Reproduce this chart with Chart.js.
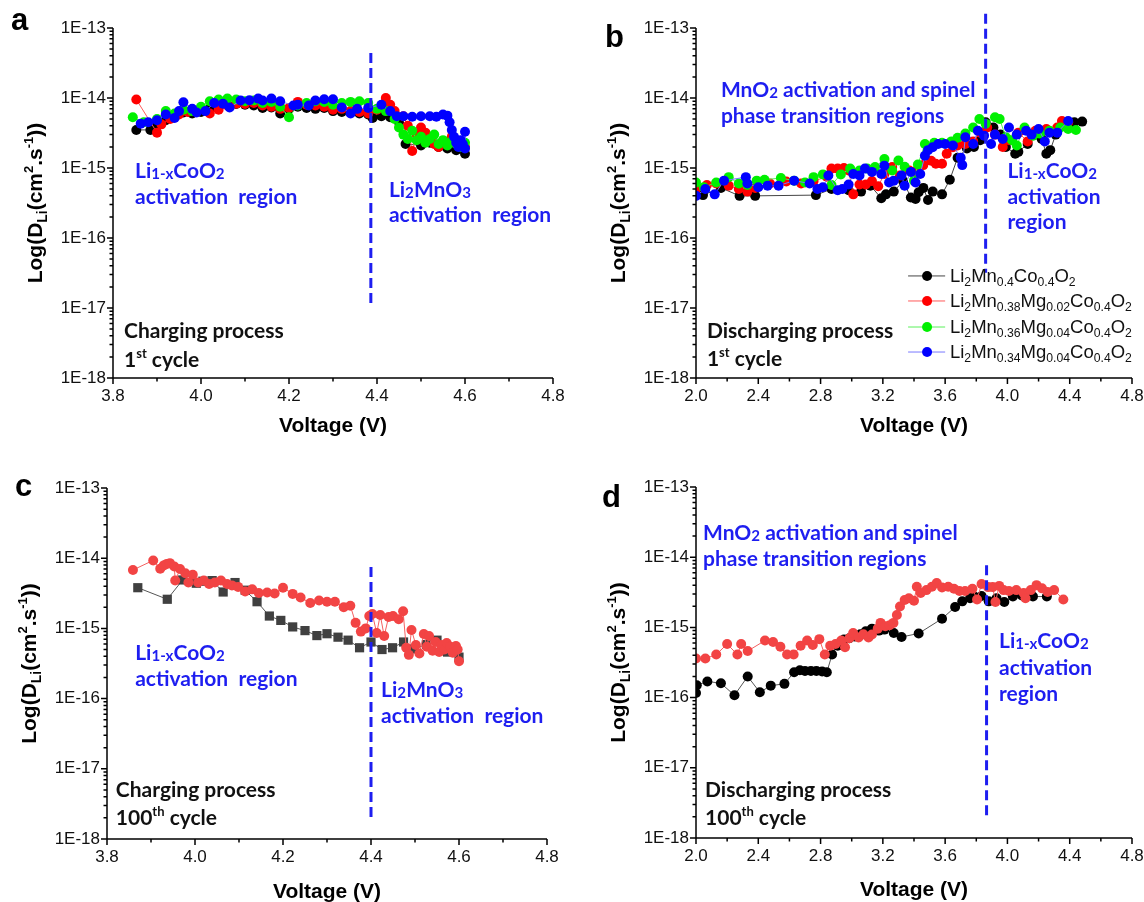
<!DOCTYPE html>
<html>
<head>
<meta charset="utf-8">
<script src="https://cdn.jsdelivr.net/npm/chart.js@4.4.1/dist/chart.umd.min.js"></script>
<style>
  body { margin: 0; background: #fff; width: 1144px; height: 902px; overflow: hidden; position: relative; }
  canvas { position: absolute; }
</style>
</head>
<body>
<canvas id="pa" width="572" height="451" style="left:0;top:0"></canvas>
<canvas id="pb" width="572" height="451" style="left:572px;top:0"></canvas>
<canvas id="pc" width="572" height="451" style="left:0;top:451px"></canvas>
<canvas id="pd" width="572" height="451" style="left:572px;top:451px"></canvas>
<script>
// ---- data: voltage (V) and D_Li (cm2/s) ----

// a: charging, 1st cycle
const aV_black = [3.853,3.885,3.90,3.92,3.94,3.96,3.98,4.00,4.02,4.04,4.06,4.08,4.10,4.12,4.14,4.16,4.18,4.20,4.22,4.24,4.26,4.28,4.30,4.32,4.34,4.36,4.38,4.39,4.41,4.43,4.45,4.465,4.50,4.52,4.54,4.56,4.58,4.60];
const aD_black = [3.5e-15,3.5e-15,4.0e-15,4.8e-15,5.5e-15,6.2e-15,6.0e-15,6.3e-15,7.0e-15,7.5e-15,8.0e-15,8.2e-15,8.0e-15,7.8e-15,7.2e-15,7.3e-15,6.0e-15,7.0e-15,7.5e-15,7.2e-15,7.0e-15,7.2e-15,6.5e-15,6.3e-15,6.2e-15,6.0e-15,5.8e-15,5.2e-15,5.5e-15,5.3e-15,4.5e-15,2.2e-15,2.1e-15,2.3e-15,2.0e-15,1.9e-15,1.8e-15,1.6e-15];
const aV_red = [3.853,3.90,3.91,3.93,3.95,3.97,3.99,4.02,4.04,4.06,4.08,4.10,4.12,4.14,4.16,4.18,4.20,4.22,4.24,4.26,4.28,4.30,4.32,4.34,4.36,4.38,4.40,4.42,4.43,4.44,4.46,4.47,4.48,4.49,4.50,4.51,4.52,4.53,4.54,4.55,4.56,4.57,4.58,4.59,4.60];
const aD_red = [9.5e-15,3.2e-15,4.2e-15,5.0e-15,5.8e-15,6.3e-15,6.5e-15,6.0e-15,6.8e-15,7.8e-15,8.3e-15,8.2e-15,8.5e-15,7.8e-15,7.5e-15,7.0e-15,7.2e-15,8.8e-15,8.0e-15,7.8e-15,7.5e-15,6.8e-15,7.0e-15,6.5e-15,6.3e-15,6.0e-15,6.8e-15,1.0e-14,8.0e-15,6.5e-15,5.5e-15,4.0e-15,1.75e-15,3.0e-15,3.8e-15,3.2e-15,2.6e-15,2.2e-15,2.0e-15,2.4e-15,2.2e-15,2.8e-15,2.5e-15,2.3e-15,2.0e-15];
const aV_green = [3.845,3.87,3.90,3.92,3.94,3.96,3.98,4.00,4.02,4.04,4.06,4.08,4.10,4.12,4.14,4.16,4.18,4.20,4.22,4.24,4.26,4.28,4.30,4.32,4.34,4.36,4.38,4.40,4.42,4.44,4.45,4.46,4.47,4.48,4.49,4.50,4.51,4.52,4.53,4.54,4.55,4.56,4.57,4.58,4.59,4.60];
const aD_green = [5.3e-15,4.5e-15,5.0e-15,6.5e-15,6.0e-15,6.8e-15,6.5e-15,7.5e-15,9.0e-15,9.5e-15,9.8e-15,9.5e-15,9.0e-15,9.2e-15,8.5e-15,8.8e-15,7.5e-15,5.3e-15,7.8e-15,8.5e-15,9.0e-15,8.8e-15,8.0e-15,8.5e-15,8.8e-15,9.0e-15,8.5e-15,7.0e-15,6.5e-15,5.0e-15,3.8e-15,3.0e-15,2.6e-15,3.4e-15,2.5e-15,2.8e-15,2.3e-15,2.6e-15,3.0e-15,2.2e-15,2.5e-15,2.1e-15,2.4e-15,2.2e-15,2.0e-15,2.3e-15];
const aV_blue = [3.863,3.88,3.90,3.92,3.94,3.95,3.96,3.98,3.99,4.01,4.03,4.05,4.065,4.09,4.11,4.13,4.14,4.16,4.18,4.21,4.22,4.245,4.26,4.28,4.30,4.32,4.34,4.355,4.38,4.41,4.43,4.445,4.46,4.48,4.50,4.52,4.535,4.55,4.56,4.565,4.57,4.575,4.58,4.585,4.59,4.595,4.60,4.60];
const aD_blue = [4.3e-15,4.5e-15,4.8e-15,5.8e-15,5.2e-15,6.5e-15,8.7e-15,7.0e-15,6.2e-15,6.5e-15,8.5e-15,8.3e-15,7.3e-15,9.2e-15,9.3e-15,9.8e-15,9.2e-15,9.8e-15,9.0e-15,7.8e-15,8.0e-15,7.8e-15,9.2e-15,9.6e-15,9.6e-15,7.3e-15,6.0e-15,7.0e-15,7.2e-15,8.0e-15,6.5e-15,5.5e-15,5.5e-15,5.4e-15,5.5e-15,5.5e-15,5.4e-15,5.8e-15,5.6e-15,4.5e-15,3.5e-15,2.8e-15,2.3e-15,2.0e-15,2.5e-15,2.2e-15,3.3e-15,1.9e-15];

// b: discharging, 1st cycle
const bV_black = [2.0,2.045,2.16,2.28,2.38,2.77,2.87,2.98,3.06,3.12,3.19,3.22,3.27,3.33,3.38,3.41,3.43,3.46,3.49,3.52,3.58,3.63,3.68,3.74,3.785,3.825,3.86,3.91,3.955,3.99,4.05,4.07,4.13,4.18,4.22,4.25,4.275,4.31,4.39,4.43,4.48];
const bD_black = [4.2e-16,4.1e-16,5.2e-16,4.0e-16,4.0e-16,4.1e-16,5.0e-16,4.8e-16,4.6e-16,5.6e-16,3.7e-16,4.2e-16,4.6e-16,6.5e-16,3.8e-16,3.6e-16,4.5e-16,5.2e-16,3.5e-16,4.6e-16,4.2e-16,6.8e-16,1.4e-15,1.9e-15,2.0e-15,2.5e-15,4.5e-15,3.8e-15,3.0e-15,2.0e-15,1.6e-15,1.7e-15,2.2e-15,3.0e-15,2.6e-15,1.6e-15,1.8e-15,3.0e-15,4.2e-15,4.5e-15,4.6e-15];
const bV_red = [2.0,2.07,2.13,2.21,2.275,2.33,2.38,2.475,2.58,2.675,2.755,2.84,2.87,2.91,2.95,2.98,3.01,3.05,3.09,3.13,3.17,3.21,3.26,3.31,3.37,3.41,3.46,3.51,3.54,3.58,3.61,3.65,3.68,3.73,3.78,3.825,3.87,3.92,3.97,4.01,4.07,4.13,4.18,4.25,4.32,4.35,4.39];
const bD_red = [5.0e-16,5.7e-16,6.0e-16,5.6e-16,5.0e-16,4.6e-16,5.2e-16,6.0e-16,6.4e-16,6.0e-16,6.5e-16,7.5e-16,9.8e-16,9.8e-16,1.0e-15,9.2e-16,4.2e-16,5.8e-16,5.8e-16,6.5e-16,5.5e-16,8.2e-16,1.03e-15,7.8e-16,9.2e-16,9.0e-16,1.1e-15,1.27e-15,1.15e-15,1.15e-15,1.6e-15,1.98e-15,2.1e-15,2.2e-15,2.4e-15,3.2e-15,3.8e-15,3.0e-15,2.0e-15,2.5e-15,3.2e-15,2.4e-15,3.4e-15,3.6e-15,3.8e-15,4.7e-15,4.5e-15];
const bV_green = [2.0,2.05,2.13,2.21,2.275,2.33,2.39,2.44,2.545,2.63,2.70,2.755,2.815,2.87,2.93,2.99,3.05,3.10,3.15,3.21,3.26,3.30,3.34,3.40,3.425,3.47,3.53,3.58,3.64,3.68,3.73,3.78,3.82,3.86,3.92,3.95,3.99,4.03,4.06,4.11,4.165,4.21,4.27,4.34,4.39,4.44];
const bD_green = [6.2e-16,5.3e-16,6.2e-16,7.4e-16,6.0e-16,5.7e-16,6.6e-16,6.8e-16,7.2e-16,6.6e-16,6.2e-16,7.4e-16,8.1e-16,5.7e-16,8.1e-16,9.8e-16,9.2e-16,9.8e-16,1.03e-15,1.34e-15,9.2e-16,1.28e-15,1.04e-15,6.6e-16,1.12e-15,2.2e-15,2.3e-15,2.3e-15,2.4e-15,2.7e-15,3.1e-15,3.8e-15,5.0e-15,4.3e-15,5.3e-15,5.0e-15,2.75e-15,2.5e-15,2.1e-15,3.8e-15,2.9e-15,3.1e-15,3.4e-15,3.8e-15,3.6e-15,3.5e-15];
const bV_blue = [2.0,2.06,2.12,2.18,2.32,2.33,2.40,2.46,2.53,2.63,2.73,2.78,2.815,2.85,2.91,2.94,2.98,3.01,3.05,3.085,3.13,3.19,3.21,3.24,3.27,3.32,3.34,3.38,3.41,3.44,3.47,3.49,3.52,3.555,3.60,3.65,3.70,3.71,3.73,3.78,3.81,3.85,3.895,3.92,3.97,4.01,4.06,4.12,4.155,4.20,4.24,4.27,4.32,4.39];
const bD_blue = [4.0e-16,5.0e-16,4.2e-16,6.6e-16,7.4e-16,6.0e-16,5.3e-16,5.6e-16,5.6e-16,6.6e-16,6.0e-16,5.0e-16,5.3e-16,7.8e-16,4.8e-16,5.0e-16,5.8e-16,8.2e-16,7.8e-16,9.8e-16,8.8e-16,8.2e-16,1.08e-15,6.2e-16,6.6e-16,7.8e-16,5.6e-16,8.8e-16,6.2e-16,8.2e-16,1.5e-15,1.8e-15,1.98e-15,2.2e-15,2.2e-15,2.1e-15,1.4e-15,1.1e-15,2.75e-15,2.2e-15,3.4e-15,2.9e-15,2.2e-15,3.0e-15,2.6e-15,3.8e-15,3.0e-15,3.4e-15,3.0e-15,3.6e-15,2.4e-15,3.2e-15,3.2e-15,4.7e-15];

// c: charging, 100th cycle
const cV_black = [3.87,3.937,3.972,4.003,4.018,4.039,4.064,4.091,4.114,4.141,4.169,4.195,4.222,4.25,4.277,4.30,4.325,4.348,4.374,4.40,4.425,4.449,4.474,4.496,4.526,4.55,4.574,4.60];
const cD_black = [3.8e-15,2.6e-15,4.9e-15,4.4e-15,4.7e-15,4.8e-15,3.3e-15,4.5e-15,3.5e-15,2.4e-15,1.5e-15,1.3e-15,1.05e-15,9.3e-16,7.9e-16,8.4e-16,7.5e-16,6.8e-16,5.3e-16,6.4e-16,5.0e-16,5.3e-16,6.4e-16,5.1e-16,5.9e-16,6.8e-16,4.6e-16,3.9e-16];
const cV_red = [3.859,3.905,3.921,3.929,3.936,3.943,3.953,3.955,3.966,3.978,3.985,3.995,4.007,4.02,4.032,4.045,4.059,4.073,4.084,4.098,4.114,4.13,4.145,4.164,4.181,4.20,4.222,4.24,4.262,4.282,4.30,4.318,4.338,4.353,4.365,4.377,4.388,4.396,4.403,4.413,4.421,4.43,4.44,4.45,4.463,4.473,4.48,4.486,4.492,4.502,4.51,4.52,4.527,4.532,4.54,4.547,4.555,4.56,4.567,4.572,4.58,4.586,4.593,4.597,4.60];
const cD_red = [6.8e-15,9.3e-15,7.1e-15,7.9e-15,8.3e-15,8.5e-15,7.6e-15,4.8e-15,7.0e-15,6.1e-15,4.5e-15,5.8e-15,4.5e-15,4.8e-15,4.3e-15,4.5e-15,4.8e-15,4.3e-15,4.1e-15,3.9e-15,3.35e-15,3.6e-15,3.2e-15,3.25e-15,3.15e-15,3.8e-15,3.1e-15,2.75e-15,2.3e-15,2.5e-15,2.4e-15,2.4e-15,2.0e-15,2.1e-15,1.2e-15,9.0e-16,1.0e-15,1.5e-15,1.6e-15,8.6e-16,1.55e-15,7.8e-16,1.45e-15,1.5e-15,1.35e-15,1.75e-15,5.3e-16,4.2e-16,9.5e-16,5.8e-16,4.4e-16,8.3e-16,5.5e-16,7.8e-16,4.8e-16,6.4e-16,4.6e-16,5.8e-16,5.0e-16,6.2e-16,5.5e-16,4.5e-16,5.6e-16,5.0e-16,3.4e-16];

// d: discharging, 100th cycle
const dV_black = [2.0,2.005,2.073,2.16,2.247,2.332,2.41,2.48,2.568,2.63,2.667,2.70,2.738,2.773,2.81,2.84,2.874,2.91,2.95,2.985,3.02,3.056,3.09,3.13,3.175,3.21,3.27,3.32,3.43,3.58,3.664,3.71,3.76,3.787,3.834,3.88,3.93,3.98,4.035,4.093,4.164,4.253];
const dD_black = [1.16e-16,1.5e-16,1.7e-16,1.6e-16,1.08e-16,2.0e-16,1.19e-16,1.48e-16,1.57e-16,2.3e-16,2.45e-16,2.4e-16,2.4e-16,2.4e-16,2.35e-16,2.3e-16,4.1e-16,5.5e-16,6.7e-16,7.0e-16,7.4e-16,8.0e-16,8.8e-16,9.6e-16,9.0e-16,9.3e-16,8.3e-16,7.3e-16,8.2e-16,1.33e-15,1.95e-15,2.35e-15,2.6e-15,2.75e-15,2.8e-15,2.35e-15,2.6e-15,2.3e-15,2.75e-15,2.85e-15,2.75e-15,2.75e-15];
const dV_red = [2.0,2.06,2.13,2.2,2.266,2.29,2.332,2.443,2.495,2.542,2.585,2.627,2.672,2.714,2.75,2.792,2.827,2.862,2.896,2.933,2.957,2.985,3.009,3.044,3.075,3.108,3.13,3.167,3.185,3.216,3.244,3.268,3.29,3.31,3.34,3.367,3.40,3.418,3.443,3.48,3.515,3.546,3.58,3.62,3.657,3.692,3.728,3.775,3.805,3.834,3.876,3.905,3.923,3.947,3.975,4.01,4.057,4.104,4.116,4.15,4.187,4.222,4.258,4.30,4.359];
const dD_red = [3.6e-16,3.6e-16,4.1e-16,5.8e-16,4.1e-16,5.8e-16,4.6e-16,6.5e-16,6.2e-16,5.3e-16,4.1e-16,4.1e-16,5.5e-16,6.5e-16,5.6e-16,6.8e-16,4.1e-16,5.5e-16,5.8e-16,6.5e-16,5.2e-16,7.0e-16,8.3e-16,7.2e-16,8.0e-16,7.2e-16,7.9e-16,9.6e-16,1.16e-15,1.04e-15,1.07e-15,1.16e-15,1.5e-15,1.98e-15,2.45e-15,2.6e-15,2.4e-15,3.8e-15,3.1e-15,3.4e-15,3.8e-15,4.3e-15,3.7e-15,3.8e-15,3.55e-15,3.3e-15,3.3e-15,3.55e-15,2.5e-15,4.15e-15,3.75e-15,3.75e-15,2.3e-15,3.9e-15,3.4e-15,3.3e-15,3.4e-15,3.1e-15,2.6e-15,3.4e-15,4.0e-15,3.6e-15,3.2e-15,3.4e-15,2.5e-15];

// legend names (rich text parts)
const seriesNames = [
  [['Li'], ['2', 'sub'], ['Mn'], ['0.4', 'sub'], ['Co'], ['0.4', 'sub'], ['O'], ['2', 'sub']],
  [['Li'], ['2', 'sub'], ['Mn'], ['0.38', 'sub'], ['Mg'], ['0.02', 'sub'], ['Co'], ['0.4', 'sub'], ['O'], ['2', 'sub']],
  [['Li'], ['2', 'sub'], ['Mn'], ['0.36', 'sub'], ['Mg'], ['0.04', 'sub'], ['Co'], ['0.4', 'sub'], ['O'], ['2', 'sub']],
  [['Li'], ['2', 'sub'], ['Mn'], ['0.34', 'sub'], ['Mg'], ['0.04', 'sub'], ['Co'], ['0.4', 'sub'], ['O'], ['2', 'sub']]
];

// ---- styling ----
const SANS = '"Liberation Sans", Arial, sans-serif';
const CAL = 'Lato, "Open Sans", sans-serif';
const TXT_BLUE = '#1e1ef0';
const C_BLACK = '#000000', C_RED = '#ff0000', C_GREEN = '#00f000', C_BLUE = '#0000ff';
const L_BLACK = '#444444', L_RED = '#ff5a5a', L_GREEN = '#5af05a', L_BLUE = '#7878ff';

const yTitle = [['Log(D'], ['Li', 'sub'], ['(cm'], ['2', 'sup'], ['.s'], ['-1', 'sup'], ['))']];
const liCoO = [['Li'], ['1-x', 'small'], ['CoO'], ['2', 'small']];
const li2MnO3 = [['Li'], ['2', 'small'], ['MnO'], ['3', 'small']];
const mnO2 = [['MnO'], ['2', 'small'], [' activation and spinel']];

function pts(vs, ds) {
  return vs.map((v, i) => ({ x: v, y: ds[i] }));
}

function drawRich(ctx, parts, x, y, size, family, weight, color) {
  let cx = x;
  ctx.fillStyle = color;
  ctx.textAlign = 'left';
  ctx.textBaseline = 'alphabetic';
  for (const [t, m] of parts) {
    let s = size, dy = 0;
    if (m === 'sub') { s = size * 0.66; dy = size * 0.24; }
    else if (m === 'sup') { s = size * 0.62; dy = -size * 0.42; }
    else if (m === 'small') { s = size * 0.72; dy = size * 0.05; }
    ctx.font = weight + ' ' + s + 'px ' + family;
    ctx.fillText(t, cx, y + dy);
    cx += ctx.measureText(t).width;
  }
  return cx - x;
}

function richWidth(ctx, parts, size, family, weight) {
  let w = 0;
  for (const [t, m] of parts) {
    let s = size;
    if (m === 'sub') s = size * 0.66;
    else if (m === 'sup') s = size * 0.62;
    else if (m === 'small') s = size * 0.72;
    ctx.font = weight + ' ' + s + 'px ' + family;
    w += ctx.measureText(t).width;
  }
  return w;
}

// axes, ticks, titles, notes, divider and legend
const decor = {
  id: 'decor',
  afterDatasetsDraw(chart, args, o) {
    const ctx = chart.ctx, xs = chart.scales.x, ys = chart.scales.y, a = chart.chartArea;
    ctx.save();

    // dashed region divider
    const dx = xs.getPixelForValue(o.divider[0]);
    ctx.strokeStyle = TXT_BLUE;
    ctx.lineWidth = 3;
    ctx.setLineDash([10, 5]);
    ctx.beginPath();
    ctx.moveTo(dx, ys.getPixelForValue(o.divider[1]));
    ctx.lineTo(dx, ys.getPixelForValue(o.divider[2]));
    ctx.stroke();
    ctx.setLineDash([]);

    // axis lines and tick marks
    ctx.strokeStyle = '#000';
    ctx.lineWidth = 1.5;
    ctx.beginPath();
    ctx.moveTo(a.left, a.top);
    ctx.lineTo(a.left, a.bottom);
    ctx.lineTo(a.right, a.bottom);
    for (let e = -18; e <= -13; e++) {
      for (let k = 1; k <= (e === -13 ? 1 : 9); k++) {
        const py = ys.getPixelForValue(k * Math.pow(10, e));
        ctx.moveTo(a.left, py);
        ctx.lineTo(a.left - (k === 1 ? 6 : 3.5), py);
      }
    }
    const n = Math.round((xs.max - xs.min) / o.minorStep);
    for (let i = 0; i <= n; i++) {
      const px = xs.getPixelForValue(xs.min + i * o.minorStep);
      ctx.moveTo(px, a.bottom);
      ctx.lineTo(px, a.bottom + (i % o.perMajor === 0 ? 6 : 3.5));
    }
    ctx.stroke();

    // x title
    ctx.font = 'bold 21px ' + SANS;
    ctx.fillStyle = '#000';
    ctx.textAlign = 'center';
    ctx.textBaseline = 'middle';
    ctx.fillText('Voltage (V)', (a.left + a.right) / 2, o.xTitleY);

    // y title, rotated
    const ySize = 21;
    const w = richWidth(ctx, yTitle, ySize, SANS, 'bold');
    ctx.save();
    ctx.translate(a.left - 78, (a.top + a.bottom) / 2);
    ctx.rotate(-Math.PI / 2);
    drawRich(ctx, yTitle, -w / 2, 7, ySize, SANS, 'bold', '#000');
    ctx.restore();

    // panel letter
    ctx.font = 'bold 31px ' + SANS;
    ctx.fillStyle = '#000';
    ctx.textAlign = 'left';
    ctx.textBaseline = 'alphabetic';
    ctx.fillText(o.letter[0], o.letter[1], o.letter[2]);

    // notes
    for (const nt of o.notes) {
      drawRich(ctx, nt.parts, xs.getPixelForValue(nt.x), ys.getPixelForValue(nt.y), 21, CAL, 'bold', nt.color);
    }

    // legend
    if (o.legend) {
      const lg = o.legend;
      const x0 = xs.getPixelForValue(lg.x0), x1 = xs.getPixelForValue(lg.x1);
      const xm = xs.getPixelForValue(lg.xm), xt = xs.getPixelForValue(lg.xt);
      lg.rows.forEach((r, i) => {
        const py = ys.getPixelForValue(r);
        ctx.strokeStyle = lg.lines[i];
        ctx.lineWidth = 1;
        ctx.beginPath();
        ctx.moveTo(x0, py);
        ctx.lineTo(x1, py);
        ctx.stroke();
        ctx.fillStyle = lg.colors[i];
        ctx.beginPath();
        ctx.arc(xm, py, 5, 0, Math.PI * 2);
        ctx.fill();
        drawRich(ctx, seriesNames[i], xt, py + 6, 18.5, SANS, 'normal', '#111');
      });
    }
    ctx.restore();
  }
};

function makePanel(id, cfg) {
  new Chart(document.getElementById(id), {
    type: 'scatter',
    data: {
      datasets: cfg.series.map(s => ({
        data: pts(s.v, s.d),
        showLine: true,
        borderColor: s.line,
        borderWidth: 1,
        backgroundColor: s.color,
        pointBackgroundColor: s.color,
        pointBorderWidth: 0,
        pointRadius: s.radius || 5,
        pointStyle: s.shape || 'circle',
        order: s.order
      }))
    },
    options: {
      responsive: false,
      animation: false,
      events: [],
      layout: { padding: { top: cfg.box.top, right: cfg.box.right, left: 0, bottom: 0 } },
      plugins: {
        legend: { display: false },
        tooltip: { enabled: false },
        decor: cfg.decor
      },
      scales: {
        x: {
          type: 'linear',
          min: cfg.xMin,
          max: 4.8,
          grid: { display: false, drawTicks: false },
          border: { display: false },
          ticks: {
            stepSize: cfg.xStep,
            autoSkip: false,
            maxRotation: 0,
            padding: 8,
            color: '#111',
            font: { family: SANS, size: 17 },
            callback: v => v.toFixed(1)
          },
          afterFit: s => { s.height = cfg.box.xh; s.paddingLeft = 0; s.paddingRight = 0; }
        },
        y: {
          type: 'logarithmic',
          min: 1e-18,
          max: 1e-13,
          grid: { display: false, drawTicks: false },
          border: { display: false },
          ticks: {
            autoSkip: false,
            padding: 7,
            color: '#111',
            font: { family: SANS, size: 17 },
            callback: v => {
              const e = Math.log10(v);
              return Math.abs(e - Math.round(e)) < 1e-6 ? '1E' + Math.round(e) : '';
            }
          },
          afterFit: s => { s.width = cfg.box.yw; s.paddingTop = 0; s.paddingBottom = 0; }
        }
      }
    },
    plugins: [decor]
  });
}

const fourSeries = (bv, bd, rv, rd, gv, gd, uv, ud) => [
  { v: bv, d: bd, color: C_BLACK, line: L_BLACK, order: 4 },
  { v: rv, d: rd, color: C_RED, line: L_RED, order: 3 },
  { v: gv, d: gd, color: C_GREEN, line: L_GREEN, order: 2 },
  { v: uv, d: ud, color: C_BLUE, line: L_BLUE, order: 1 }
];

makePanel('pa', {
  xMin: 3.8, xStep: 0.2,
  box: { top: 28, right: 19, yw: 113, xh: 73 },
  series: fourSeries(aV_black, aD_black, aV_red, aD_red, aV_green, aD_green, aV_blue, aD_blue),
  decor: {
    divider: [4.386, 4.4e-14, 1.07e-17],
    minorStep: 0.1, perMajor: 2,
    xTitleY: 426,
    letter: ['a', 11, 30],
    notes: [
      { parts: liCoO, x: 3.85, y: 7.2e-16, color: TXT_BLUE },
      { parts: [['activation  region']], x: 3.85, y: 3.06e-16, color: TXT_BLUE },
      { parts: li2MnO3, x: 4.427, y: 3.85e-16, color: TXT_BLUE },
      { parts: [['activation  region']], x: 4.427, y: 1.69e-16, color: TXT_BLUE },
      { parts: [['Charging process']], x: 3.825, y: 3.7e-18, color: '#111' },
      { parts: [['1'], ['st', 'sup'], [' cycle']], x: 3.825, y: 1.44e-18, color: '#111' }
    ]
  }
});

makePanel('pb', {
  xMin: 2.0, xStep: 0.4,
  box: { top: 28, right: 12, yw: 124, xh: 73 },
  series: fourSeries(bV_black, bD_black, bV_red, bD_red, bV_green, bD_green, bV_blue, bD_blue),
  decor: {
    divider: [3.86, 1.6e-13, 3.2e-17],
    minorStep: 0.2, perMajor: 2,
    xTitleY: 426,
    letter: ['b', 33, 47],
    notes: [
      { parts: mnO2, x: 2.16, y: 1.03e-14, color: TXT_BLUE },
      { parts: [['phase transition regions']], x: 2.16, y: 4.4e-15, color: TXT_BLUE },
      { parts: liCoO, x: 4.0, y: 7.2e-16, color: TXT_BLUE },
      { parts: [['activation']], x: 4.0, y: 3.06e-16, color: TXT_BLUE },
      { parts: [['region']], x: 4.0, y: 1.35e-16, color: TXT_BLUE },
      { parts: [['Discharging process']], x: 2.07, y: 3.7e-18, color: '#111' },
      { parts: [['1'], ['st', 'sup'], [' cycle']], x: 2.07, y: 1.48e-18, color: '#111' }
    ],
    legend: {
      x0: 3.362, x1: 3.60, xm: 3.484, xt: 3.631,
      rows: [2.87e-17, 1.26e-17, 5.35e-18, 2.35e-18],
      colors: [C_BLACK, C_RED, C_GREEN, C_BLUE],
      lines: [L_BLACK, L_RED, L_GREEN, L_BLUE]
    }
  }
});

makePanel('pc', {
  xMin: 3.8, xStep: 0.2,
  box: { top: 37, right: 25, yw: 107, xh: 63 },
  series: [
    { v: cV_black, d: cD_black, color: '#404040', line: '#555555', shape: 'rect', radius: 6.5, order: 2 },
    { v: cV_red, d: cD_red, color: '#f24444', line: '#f46060', order: 1 }
  ],
  decor: {
    divider: [4.4, 7.5e-15, 2e-18],
    minorStep: 0.1, perMajor: 2,
    xTitleY: 441,
    letter: ['c', 15, 45],
    notes: [
      { parts: liCoO, x: 3.864, y: 3.55e-16, color: TXT_BLUE },
      { parts: [['activation  region']], x: 3.864, y: 1.51e-16, color: TXT_BLUE },
      { parts: li2MnO3, x: 4.423, y: 1.05e-16, color: TXT_BLUE },
      { parts: [['activation  region']], x: 4.423, y: 4.49e-17, color: TXT_BLUE },
      { parts: [['Charging process']], x: 3.82, y: 3.96e-18, color: '#111' },
      { parts: [['100'], ['th', 'sup'], [' cycle']], x: 3.82, y: 1.58e-18, color: '#111' }
    ]
  }
});

makePanel('pd', {
  xMin: 2.0, xStep: 0.4,
  box: { top: 36, right: 12, yw: 124, xh: 64 },
  series: [
    { v: dV_black, d: dD_black, color: '#000000', line: '#555555', order: 2 },
    { v: dV_red, d: dD_red, color: '#f24444', line: '#f46060', order: 1 }
  ],
  decor: {
    divider: [3.866, 7.7e-15, 1.95e-18],
    minorStep: 0.2, perMajor: 2,
    xTitleY: 439,
    letter: ['d', 30, 56],
    notes: [
      { parts: mnO2, x: 2.045, y: 1.76e-14, color: TXT_BLUE },
      { parts: [['phase transition regions']], x: 2.045, y: 7.5e-15, color: TXT_BLUE },
      { parts: liCoO, x: 3.946, y: 5.1e-16, color: TXT_BLUE },
      { parts: [['activation']], x: 3.946, y: 2.1e-16, color: TXT_BLUE },
      { parts: [['region']], x: 3.946, y: 8.95e-17, color: TXT_BLUE },
      { parts: [['Discharging process']], x: 2.058, y: 3.84e-18, color: '#111' },
      { parts: [['100'], ['th', 'sup'], [' cycle']], x: 2.058, y: 1.53e-18, color: '#111' }
    ]
  }
});
</script>
</body>
</html>
